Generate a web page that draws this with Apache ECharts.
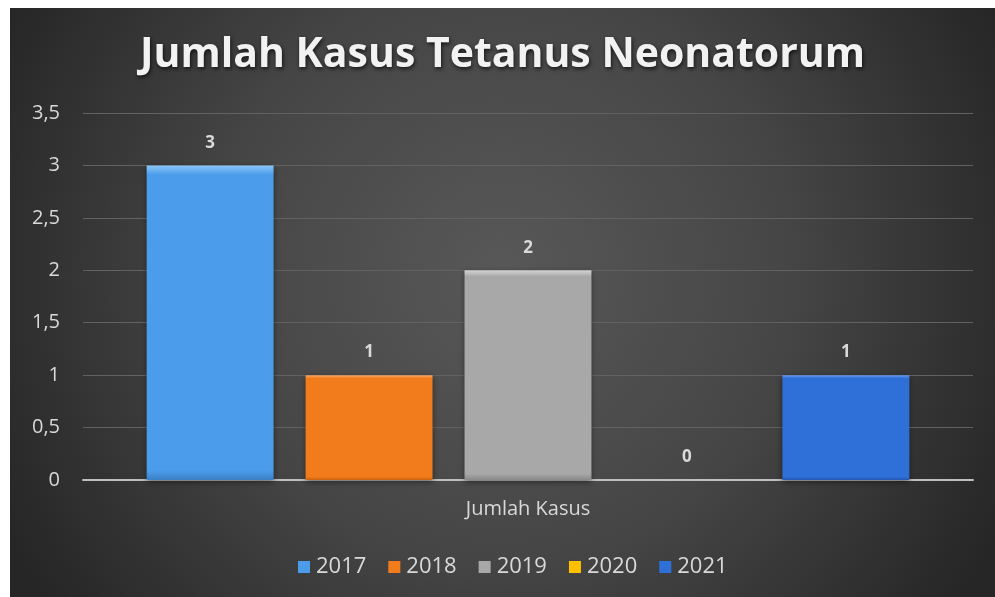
<!DOCTYPE html>
<html>
<head>
<meta charset="utf-8">
<script src="https://cdn.jsdelivr.net/npm/echarts@6/dist/echarts.min.js"></script>
<style>
  html, body { margin: 0; padding: 0; background: #fff; }
  #kasus_chart { position: absolute; left: 10px; top: 8px; width: 985px; height: 589px; }
</style>
</head>
<body>
<div id="kasus_chart"></div>
<script>
// data
var categories = ['Jumlah Kasus']
var years = ['2017', '2018', '2019', '2020', '2021']
var cases = [3, 1, 2, 0, 1]
var yMax = 3.5
var yStep = 0.5

// warna per tahun (main, light, dark)
var palette = [
  ['#4b9ceb', '#8cc6f7', '#3a7fc4'],
  ['#f27c1c', '#f9ac6a', '#c9610e'],
  ['#a8a8a8', '#d4d4d4', '#8a8a8a'],
  ['#ffc000', '#ffe066', '#d9a300'],
  ['#2f6fd8', '#6a9cf0', '#2456b0']
]

function bevel (c) {
  return {
    type: 'linear', x: 0, y: 0, x2: 0, y2: 1,
    colorStops: [
      { offset: 0, color: c[1] },
      { offset: 0.03, color: c[0] },
      { offset: 0.97, color: c[0] },
      { offset: 1, color: c[2] }
    ]
  }
}

var series = years.map(function (y, i) {
  return {
    name: y,
    type: 'bar',
    data: [cases[i]],
    barGap: '25.2%',
    barCategoryGap: '14.3%',
    itemStyle: {
      color: bevel(palette[i]),
      shadowColor: 'rgba(0,0,0,0.45)',
      shadowBlur: 6,
      shadowOffsetY: 2
    },
    label: {
      show: true,
      position: 'top',
      distance: 14,
      color: '#d9d9d9',
      fontFamily: 'Open Sans',
      fontWeight: 'bold',
      fontSize: 17
    }
  }
})

var option = {
  backgroundColor: {
    type: 'radial', x: 0.5, y: 0.45, r: 0.95,
    colorStops: [
      { offset: 0, color: '#585858' },
      { offset: 0.5, color: '#464646' },
      { offset: 1, color: '#262626' }
    ]
  },
  color: palette.map(function (p) { return p[0] }),
  title: {
    text: 'Jumlah Kasus Tetanus Neonatorum',
    left: 'center',
    top: 22,
    textStyle: {
      color: '#f2f2f2',
      fontFamily: 'Open Sans',
      fontWeight: 'bold',
      fontSize: 41,
      textShadowColor: 'rgba(0,0,0,0.7)',
      textShadowBlur: 4,
      textShadowOffsetX: 1,
      textShadowOffsetY: 2
    }
  },
  legend: {
    data: years,
    left: 283,
    top: 543,
    icon: 'rect',
    itemWidth: 12,
    itemHeight: 12,
    itemGap: 22,
    textStyle: {
      color: '#d9d9d9',
      fontFamily: 'Open Sans',
      fontSize: 22,
      padding: [0, 0, 0, 1]
    }
  },
  grid: {
    left: 73,
    right: 22,
    top: 105,
    bottom: 117,
    containLabel: false
  },
  xAxis: {
    type: 'category',
    data: categories,
    axisLine: { lineStyle: { color: '#bfbfbf', width: 2 } },
    axisTick: { show: false },
    axisLabel: {
      color: '#d9d9d9',
      fontFamily: 'Open Sans',
      fontSize: 20,
      margin: 19
    }
  },
  yAxis: {
    type: 'value',
    min: 0,
    max: yMax,
    interval: yStep,
    axisLine: { show: false },
    axisTick: { show: false },
    axisLabel: {
      color: '#d9d9d9',
      fontFamily: 'Open Sans',
      fontSize: 20,
      margin: 23,
      formatter: function (v) { return String(v).replace('.', ',') }
    },
    splitLine: {
      lineStyle: { color: '#626262', width: 1 }
    }
  },
  series: series
}

var myChart = echarts.init(document.getElementById('kasus_chart'))
myChart.setOption(option)
window.addEventListener('resize', function () {
  myChart.resize()
})
</script>
</body>
</html>
